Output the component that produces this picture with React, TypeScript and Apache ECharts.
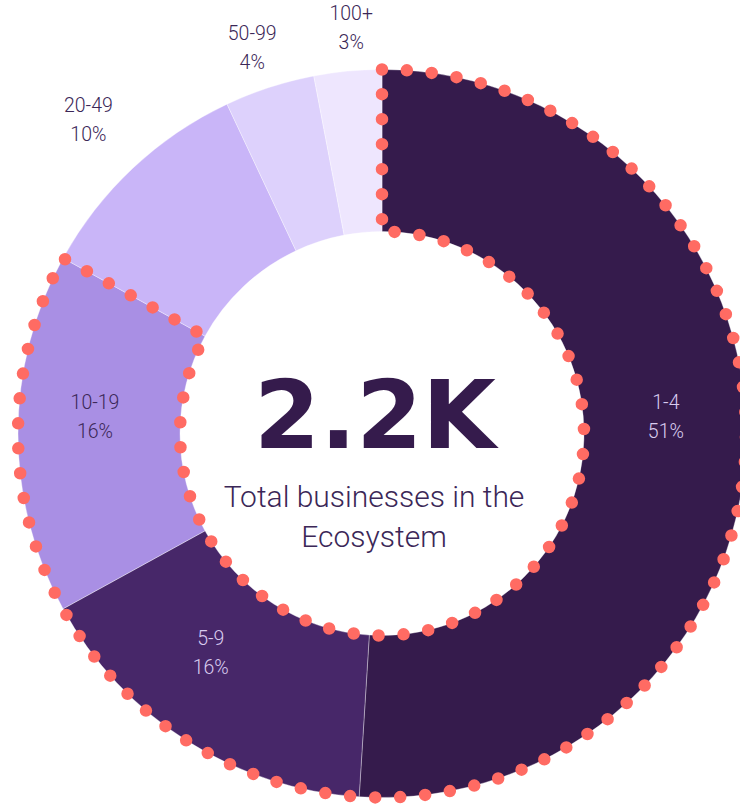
import React, { useEffect, useRef } from "react";
import * as echarts from "echarts";

// ---- data ----
const categories = ["1-4", "5-9", "10-19", "20-49", "50-99", "100+"];
const shares = [51, 16, 16, 10, 4, 3];
const highlighted = ["1-4", "5-9", "10-19"];
const headline = "2.2K";
const subtitleLines = ["Total businesses in the", "Ecosystem"];

// ---- styles ----
const SLICE_COLORS = ["#351B4C", "#472769", "#A98FE4", "#C9B5F8", "#DDD1FC", "#EEE6FE"];
const LABEL_COLORS = ["#D9CCEF", "#D9CCEF", "#3B2757", "#3B2757", "#3B2757", "#3B2757"];
const INSIDE_COUNT = 3; // first three labels sit inside the ring
const INNER_NUDGE: Record<number, [number, number]> = { 0: [-2, -25], 1: [-18, -22], 2: [-1, -16.5] };
const OUTER_NUDGE: Record<number, [number, number]> = { 3: [-15, -16.5], 4: [-4, 2], 5: [7.5, 0] };
const FONT = "Roboto, 'Noto Sans', sans-serif";
const CENTER: [number, number] = [382, 433.5];
const R_IN = 202;
const R_OUT = 364;
const DOT_COLOR = "#FF6B63";

export default function App() {
  const ref = useRef<HTMLDivElement>(null);

  useEffect(() => {
    document.body.style.margin = "0";
    const chart = echarts.init(ref.current!, undefined, { renderer: "svg" });

    const mainData = categories.map((name, i) => ({
      name,
      value: shares[i],
      itemStyle: { color: SLICE_COLORS[i] },
      label: {
        show: i < INSIDE_COUNT,
        color: LABEL_COLORS[i],
      },
    }));

    const outerData = categories.map((name, i) => ({
      name,
      value: shares[i],
      label: { show: i >= INSIDE_COUNT, color: LABEL_COLORS[i] },
    }));

    const hiSum = categories.reduce((s, c, i) => (highlighted.includes(c) ? s + shares[i] : s), 0);
    const restSum = categories.reduce((s, c, i) => (highlighted.includes(c) ? s : s + shares[i]), 0);

    const labelBase = {
      position: "inside" as const,
      formatter: "{b}\n{c}%",
      fontSize: 19.5,
      lineHeight: 29,
      fontFamily: FONT,
      fontWeight: 300 as const,
    };

    chart.setOption({
      animation: false,
      backgroundColor: "#ffffff",
      series: [
        {
          type: "pie",
          center: CENTER,
          radius: [R_IN, R_OUT],
          startAngle: 90,
          clockwise: true,
          avoidLabelOverlap: false,
          silent: true,
          itemStyle: { borderColor: "rgba(255,255,255,0.35)", borderWidth: 1 },
          label: labelBase,
          labelLine: { show: false },
          labelLayout: (p: any) => {
            const n = INNER_NUDGE[p.dataIndex];
            return n ? { dx: n[0], dy: n[1] } : {};
          },
          data: mainData,
          z: 1,
        },
        {
          type: "pie",
          center: CENTER,
          radius: [R_OUT + 20, R_OUT + 60],
          startAngle: 90,
          clockwise: true,
          avoidLabelOverlap: false,
          silent: true,
          itemStyle: { color: "rgba(0,0,0,0)", borderWidth: 0 },
          label: labelBase,
          labelLine: { show: false },
          labelLayout: (p: any) => {
            const n = OUTER_NUDGE[p.dataIndex];
            return n ? { dx: n[0], dy: n[1] } : {};
          },
          data: outerData,
          z: 1,
        },
        {
          type: "pie",
          center: CENTER,
          radius: [R_IN, R_OUT],
          startAngle: 90,
          clockwise: true,
          silent: true,
          label: { show: false },
          labelLine: { show: false },
          data: [
            {
              name: "highlight",
              value: hiSum,
              itemStyle: {
                color: "rgba(0,0,0,0)",
                borderColor: DOT_COLOR,
                borderWidth: 12.5,
                borderType: [0, 25],
                borderCap: "round",
                borderJoin: "round",
              },
            },
            {
              name: "rest",
              value: restSum,
              itemStyle: { color: "rgba(0,0,0,0)", borderWidth: 0 },
            },
          ],
          z: 5,
        },
      ],
      graphic: [
        {
          type: "text",
          x: 375,
          y: 415,
          style: {
            text: headline,
            font: `bold 95px 'DejaVu Sans', sans-serif`,
            fill: "#351B4C",
            align: "center",
            verticalAlign: "middle",
          },
        },
        {
          type: "text",
          x: 374,
          y: 496,
          style: {
            text: subtitleLines[0],
            font: `300 30px ${FONT}`,
            fill: "#3B2757",
            align: "center",
            verticalAlign: "middle",
          },
        },
        {
          type: "text",
          x: 374,
          y: 536,
          style: {
            text: subtitleLines[1],
            font: `300 30px ${FONT}`,
            fill: "#3B2757",
            align: "center",
            verticalAlign: "middle",
          },
        },
      ],
    });

    return () => chart.dispose();
  }, []);

  return <div ref={ref} style={{ width: 740, height: 805 }} />;
}
